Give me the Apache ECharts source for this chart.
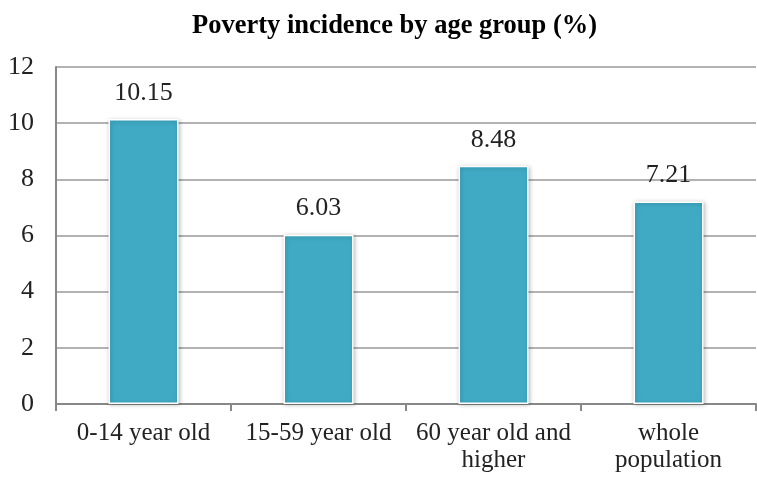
<!DOCTYPE html>
<html>
<head>
<meta charset="utf-8">
<script src="https://cdn.jsdelivr.net/npm/echarts@6/dist/echarts.min.js"></script>
<style>
  html, body { margin: 0; padding: 0; background: #fff; }
  #chart { width: 757px; height: 481px; }
</style>
</head>
<body>
<div id="chart"></div>
<script>
// Poverty incidence by age group
const categories = ['0-14 year old', '15-59 year old', '60 year old and\nhigher', 'whole\npopulation'];
const values = [10.15, 6.03, 8.48, 7.21];
const yTicks = [0, 2, 4, 6, 8, 10, 12];

const serif = '"Liberation Serif", "Times New Roman", serif';
const chart = echarts.init(document.getElementById('chart'));

chart.setOption({
  backgroundColor: '#ffffff',
  animation: false,
  title: {
    text: 'Poverty incidence by age group (%)',
    left: 187,
    top: 8,
    textStyle: { fontFamily: serif, fontWeight: 'bold', fontSize: 26.5, color: '#000' }
  },
  grid: { left: 56, right: 1, top: 67, bottom: 77 },
  xAxis: {
    type: 'category',
    data: categories,
    boundaryGap: true,
    axisLine: { lineStyle: { color: '#888', width: 2 } },
    axisTick: { show: true, alignWithLabel: false, length: 7, lineStyle: { color: '#888', width: 2 } },
    axisLabel: { fontFamily: serif, fontSize: 25, color: '#222', margin: 16, lineHeight: 27, interval: 0 }
  },
  yAxis: {
    type: 'value',
    min: yTicks[0],
    max: yTicks[yTicks.length - 1],
    interval: 2,
    axisLine: { show: true, lineStyle: { color: '#888', width: 2 } },
    axisTick: { show: false },
    axisLabel: { fontFamily: serif, fontSize: 26, color: '#222', margin: 22 },
    splitLine: { lineStyle: { color: '#999', width: 1.5 } }
  },
  series: [{
    type: 'bar',
    data: values,
    barWidth: '40%',
    itemStyle: {
      color: '#40aac5',
      borderColor: '#ffffff',
      borderWidth: 1.5,
      shadowColor: 'rgba(0,0,0,0.25)',
      shadowBlur: 4,
      shadowOffsetX: 1,
      shadowOffsetY: 1
    },
    label: {
      show: true,
      position: 'top',
      distance: 13,
      fontFamily: serif,
      fontSize: 26,
      color: '#222',
      formatter: p => p.value.toFixed(2)
    }
  }]
});
</script>
</body>
</html>
